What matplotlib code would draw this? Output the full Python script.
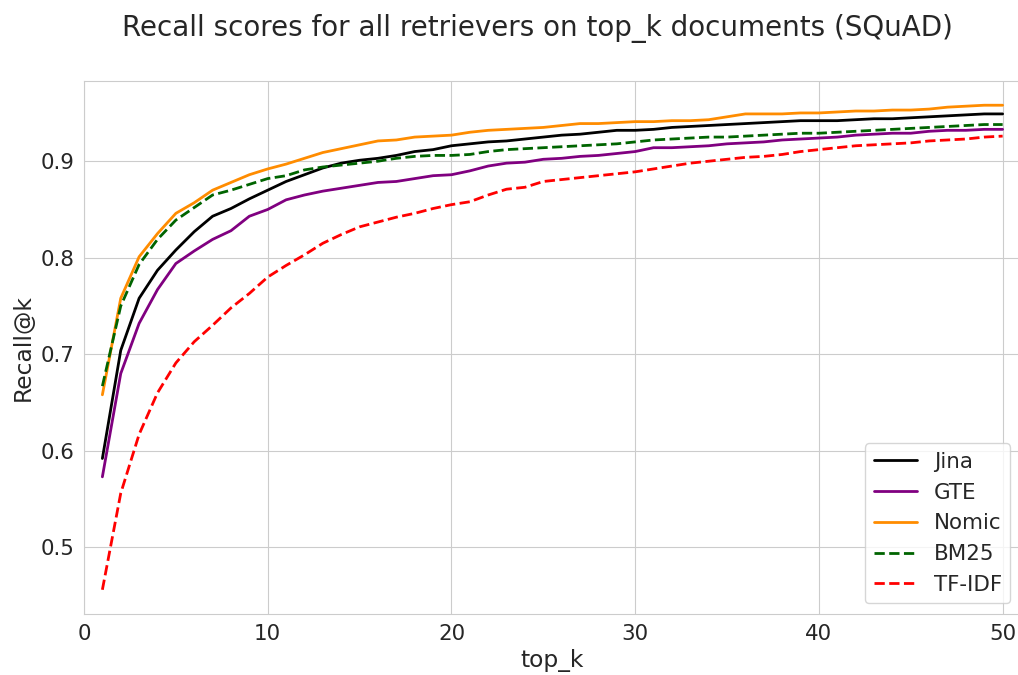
import numpy as np
import seaborn as sns
from matplotlib import pyplot as plt

# top_k values
k = np.arange(1, 51)

# Recall@k per retriever
jina = [0.592, 0.704, 0.758, 0.787, 0.808, 0.827, 0.843, 0.851, 0.861, 0.870,
        0.879, 0.886, 0.893, 0.898, 0.901, 0.903, 0.906, 0.910, 0.912, 0.916,
        0.918, 0.920, 0.921, 0.923, 0.925, 0.927, 0.928, 0.930, 0.932, 0.932,
        0.933, 0.935, 0.936, 0.937, 0.938, 0.939, 0.940, 0.941, 0.942, 0.942,
        0.942, 0.943, 0.944, 0.944, 0.945, 0.946, 0.947, 0.948, 0.949, 0.949]
gte = [0.573, 0.680, 0.732, 0.767, 0.794, 0.807, 0.819, 0.828, 0.843, 0.850,
       0.860, 0.865, 0.869, 0.872, 0.875, 0.878, 0.879, 0.882, 0.885, 0.886,
       0.890, 0.895, 0.898, 0.899, 0.902, 0.903, 0.905, 0.906, 0.908, 0.910,
       0.914, 0.914, 0.915, 0.916, 0.918, 0.919, 0.920, 0.922, 0.923, 0.924,
       0.925, 0.927, 0.928, 0.929, 0.929, 0.931, 0.932, 0.932, 0.933, 0.933]
nomic = [0.658, 0.758, 0.801, 0.825, 0.846, 0.857, 0.870, 0.878, 0.886, 0.892,
         0.897, 0.903, 0.909, 0.913, 0.917, 0.921, 0.922, 0.925, 0.926, 0.927,
         0.930, 0.932, 0.933, 0.934, 0.935, 0.937, 0.939, 0.939, 0.940, 0.941,
         0.941, 0.942, 0.942, 0.943, 0.946, 0.949, 0.949, 0.949, 0.950, 0.950,
         0.951, 0.952, 0.952, 0.953, 0.953, 0.954, 0.956, 0.957, 0.958, 0.958]
bm25 = [0.667, 0.750, 0.793, 0.819, 0.839, 0.852, 0.865, 0.870, 0.876, 0.882,
        0.885, 0.891, 0.894, 0.896, 0.898, 0.900, 0.903, 0.905, 0.906, 0.906,
        0.907, 0.910, 0.912, 0.913, 0.914, 0.915, 0.916, 0.917, 0.918, 0.920,
        0.922, 0.923, 0.924, 0.925, 0.925, 0.926, 0.927, 0.928, 0.929, 0.929,
        0.930, 0.931, 0.932, 0.933, 0.934, 0.935, 0.936, 0.937, 0.938, 0.938]
tfidf = [0.456, 0.556, 0.617, 0.660, 0.691, 0.713, 0.730, 0.748, 0.763, 0.780,
         0.792, 0.803, 0.815, 0.824, 0.832, 0.837, 0.842, 0.846, 0.851, 0.855,
         0.858, 0.865, 0.871, 0.873, 0.879, 0.881, 0.883, 0.885, 0.887, 0.889,
         0.892, 0.895, 0.898, 0.900, 0.902, 0.904, 0.905, 0.907, 0.910, 0.912,
         0.914, 0.916, 0.917, 0.918, 0.919, 0.921, 0.922, 0.923, 0.925, 0.926]

sns.set_style("whitegrid")

fig = plt.figure(figsize=(10.18, 6.75), dpi=100)
# axes placed by hand: the right edge runs just past the figure, as in the reference
ax = fig.add_axes([84 / 1018, 61 / 675, 937 / 1018, 533 / 675])

ax.plot(k, jina, color="black", lw=2, label="Jina")
ax.plot(k, gte, color="purple", lw=2, label="GTE")
ax.plot(k, nomic, color="darkorange", lw=2, label="Nomic")
ax.plot(k, bm25, color="darkgreen", lw=2, ls="--", label="BM25")
ax.plot(k, tfidf, color="red", lw=2, ls="--", label="TF-IDF")

ax.set_xlim(0, 51)
ax.set_xticks([0, 10, 20, 30, 40, 50])
ax.spines["right"].set_visible(False)
ax.tick_params(labelsize=15.4)
ax.set_xlabel("top_k", fontsize=16.8)
ax.set_ylabel("Recall@k", fontsize=16.8)
ax.legend(loc="lower right", fontsize=15.4)

# title sits a bit right of the figure centre in the reference
fig.suptitle("Recall scores for all retrievers on top_k documents (SQuAD)",
             fontsize=20, x=537 / 1018, y=0.958, va="center")

fig.savefig("out.png", dpi=100)
